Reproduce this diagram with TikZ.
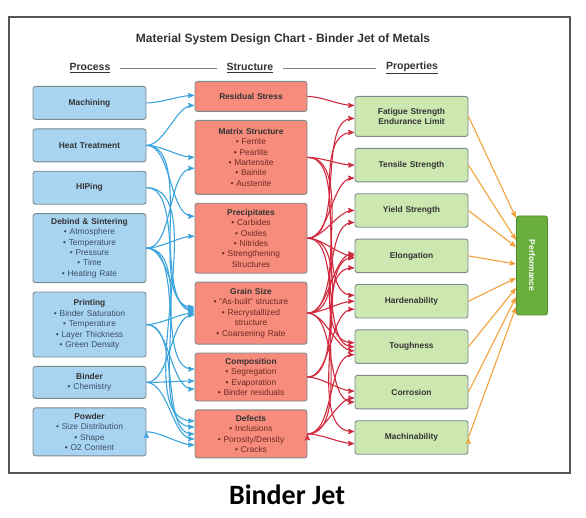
\documentclass[tikz,border=0pt]{standalone}
\usepackage{fontspec}
\setmainfont{Liberation Sans}
\newfontfamily\capfont{Carlito}
\usetikzlibrary{arrows,positioning}

\definecolor{procfill}{HTML}{A8D4F2}
\definecolor{structfill}{HTML}{F78C7C}
\definecolor{propfill}{HTML}{CDE7B0}
\definecolor{perffill}{HTML}{6AAF3E}
\definecolor{boxline}{HTML}{7D8A8C}
\definecolor{headtxt}{HTML}{333333}
\definecolor{itemblue}{HTML}{3B4E62}
\definecolor{itemred}{HTML}{6B2A22}
\definecolor{bluearr}{HTML}{3CA4DC}
\definecolor{redarr}{HTML}{D22A3E}
\definecolor{orangearr}{HTML}{F4A33A}
\definecolor{framecol}{HTML}{555555}

\newcommand{\hd}[1]{{\bfseries\color{headtxt}#1}}
\newcommand{\itm}{\textbullet\ }

\begin{document}
\begin{tikzpicture}[x=1pt,y=1pt,->,>=stealth',shorten >=0.5pt,%
        line width=1.1pt,
        box/.style={draw=boxline,rounded corners=2.5pt,line width=0.9pt,
          align=center,inner sep=1pt,font=\fontsize{8.4}{10.4}\selectfont},
        procbox/.style={box,fill=procfill,text=itemblue,text width=111pt},
        structbox/.style={box,fill=structfill,text=itemred,text width=110pt},
        propbox/.style={box,fill=propfill,text width=111pt,minimum height=33.5pt},
        perfbox/.style={box,fill=perffill,draw=perffill!80!black,text=white,
          minimum width=31pt,minimum height=99pt},
        blueline/.style={draw=bluearr,out=0,in=180,looseness=0.75},
        redline/.style={draw=redarr,out=0,in=180,looseness=0.75},
        orangeline/.style={draw=orangearr}]

      \useasboundingbox[fill=white] (0,0) rectangle (586,518);
      \draw[-,framecol,line width=1.2pt] (9,45) rectangle (570,501);

      \node[font=\fontsize{12}{14}\selectfont\bfseries,text=headtxt] (T) at (283,479)
            {Material System Design Chart - Binder Jet of Metals};
      \node[font=\fontsize{10.5}{12}\selectfont\bfseries,text=headtxt] (PH) at (90,450)  {\underline{Process}};
      \node[font=\fontsize{10.5}{12}\selectfont\bfseries,text=headtxt] (SH) at (250,450) {\underline{Structure}};
      \node[font=\fontsize{10.5}{12}\selectfont\bfseries,text=headtxt] (QH) at (412,450) {\underline{Properties}};
      \draw[-,gray,line width=0.8pt,shorten <=6pt,shorten >=6pt] (PH) -- (SH);
      \draw[-,gray,line width=0.8pt,shorten <=6pt,shorten >=6pt] (SH) -- (QH);

      \node[procbox,minimum height=33pt,anchor=north] (MA) at (89.5,432) {\hd{Machining}};
      \node[procbox,minimum height=33pt] (HT) [below=8.5pt of MA] {\hd{Heat Treatment}};
      \node[procbox,minimum height=33pt] (HI) [below=8.5pt of HT] {\hd{HIPing}};
      \node[procbox,minimum height=69pt] (DS) [below=8.5pt of HI]
            {\hd{Debind \& Sintering}\\\itm Atmosphere\\\itm Temperature\\\itm Pressure\\\itm Time\\\itm Heating Rate};
      \node[procbox,minimum height=65pt] (PR) [below=8.5pt of DS]
            {\hd{Printing}\\\itm Binder Saturation\\\itm Temperature\\\itm Layer Thickness\\\itm Green Density};
      \node[procbox,minimum height=32pt] (BI) [below=8.5pt of PR] {\hd{Binder}\\\itm Chemistry};
      \node[procbox,minimum height=48pt] (PO) [below=8.5pt of BI]
            {\hd{Powder}\\\itm Size Distribution\\\itm Shape\\\itm O2 Content};

      \node[structbox,minimum height=30pt,anchor=north] (RS) at (251,437) {\hd{Residual Stress}};
      \node[structbox,minimum height=74pt] (MS) [below=8pt of RS]
            {\hd{Matrix Structure}\\\itm Ferrite\\\itm Pearlite\\\itm Martensite\\\itm Bainite\\\itm Austenite};
      \node[structbox,minimum height=70pt] (PC) [below=8pt of MS]
            {\hd{Precipitates}\\\itm Carbides\\\itm Oxides\\\itm Nitrides\\\itm Strengthening\\Structures};
      \node[structbox,minimum height=62pt] (GS) [below=8pt of PC]
            {\hd{Grain Size}\\\itm ``As-built'' structure\\\itm Recrystallized\\structure\\\itm Coarsening Rate};
      \node[structbox,minimum height=48pt] (CO) [below=8pt of GS]
            {\hd{Composition}\\\itm Segregation\\\itm Evaporation\\\itm Binder residuals};
      \node[structbox,minimum height=48pt] (DE) [below=8pt of CO]
            {\hd{Defects}\\\itm Inclusions\\\itm Porosity/Density\\\itm Cracks};

      \node[propbox,minimum height=40pt,anchor=north] (FS) at (411.5,422) {\hd{Fatigue Strength}\\\hd{Endurance Limit}};
      \node[propbox] (TS) [below=11pt of FS] {\hd{Tensile Strength}};
      \node[propbox] (YS) [below=11pt of TS] {\hd{Yield Strength}};
      \node[propbox] (EL) [below=11pt of YS] {\hd{Elongation}};
      \node[propbox] (HA) [below=11pt of EL] {\hd{Hardenability}};
      \node[propbox] (TO) [below=11pt of HA] {\hd{Toughness}};
      \node[propbox] (CR) [below=11pt of TO] {\hd{Corrosion}};
      \node[propbox] (MC) [below=11pt of CR] {\hd{Machinability}};

      \node[perfbox] (PF) at (532,252.5) {\rotatebox{-90}{\bfseries Performance}};

      \node[font=\capfont\fontsize{28}{30}\selectfont\bfseries] (BJ) at (287,23) {Binder Jet};

      \path[blueline]
      (MA.east) edge ([yshift=1pt]RS.west)
      (HT.east) edge ([yshift=-9pt]RS.west)
                edge (MS.west)
                edge ([yshift=22pt]PC.west)
                edge ([yshift=6pt]GS.west)
      (HI.east) edge ([yshift=4pt]GS.west)
                edge ([yshift=13pt]DE.west)
      (DS.east) edge ([yshift=-11pt]MS.west)
                edge ([yshift=2pt]PC.west)
                edge ([yshift=2pt]GS.west)
                edge ([yshift=8pt]CO.west)
                edge ([yshift=7pt]DE.west)
      (PR.east) edge (GS.west)
                edge ([yshift=-12pt]CO.west)
                edge (DE.west)
      (BI.east) edge ([yshift=-2pt]GS.west)
                edge ([yshift=-4pt]CO.west)
                edge ([yshift=-5pt]DE.west)
      (PO.east) edge ([yshift=-11pt]DE.west);

      \path[redline]
      (RS.east) edge ([yshift=11pt]FS.west)
      (MS.east) edge (TS.west)
                edge ([yshift=6pt]HA.west)
                edge ([yshift=4pt]TO.west)
      (PC.east) edge ([yshift=-2pt]FS.west)
                edge ([yshift=-13pt]TS.west)
                edge (YS.west)
                edge (EL.west)
                edge (TO.west)
                edge ([yshift=6pt]MC.west)
      (GS.east) edge ([yshift=-16pt]FS.west)
                edge ([yshift=-12pt]YS.west)
                edge ([yshift=2pt]EL.west)
                edge (HA.west)
                edge ([yshift=-4pt]TO.west)
                edge ([yshift=-10pt]CR.west)
      (CO.east) edge ([yshift=-2pt]EL.west)
                edge ([yshift=-8pt]HA.west)
                edge ([yshift=1pt]CR.west)
      (DE.east) edge ([yshift=-12pt]EL.west)
                edge ([yshift=-8pt]TO.west)
                edge ([yshift=-6pt]CR.west)
                edge ([yshift=-6pt]MC.west);

      \path[orangeline]
      (FS.east) edge ([yshift=47.5pt]PF.west)
      (TS.east) edge ([yshift=25.5pt]PF.west)
      (YS.east) edge ([yshift=18.5pt]PF.west)
      (EL.east) edge ([yshift=1.5pt]PF.west)
      (HA.east) edge ([yshift=-12.5pt]PF.west)
      (TO.east) edge ([yshift=-22.5pt]PF.west)
      (CR.east) edge ([yshift=-31.5pt]PF.west)
      (MC.east) edge ([yshift=-41.5pt]PF.west);

    \end{tikzpicture}
\end{document}
